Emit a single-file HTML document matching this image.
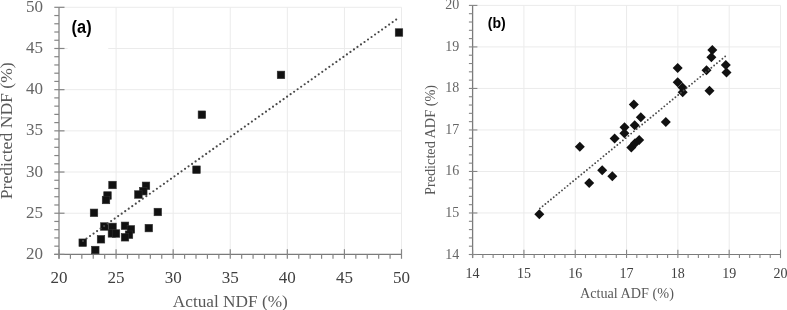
<!DOCTYPE html>
<html><head><meta charset="utf-8"><style>
html,body{margin:0;padding:0;background:#fff;width:787px;height:310px;overflow:hidden}
svg{display:block;filter:grayscale(1)}
.tl{font-family:"Liberation Serif",serif;font-size:17px}
.tl2{font-family:"Liberation Serif",serif;font-size:14.5px}
.ty{fill:#666666}.tx{fill:#404040}
.at1{font-family:"Liberation Serif",serif;font-size:17.5px;fill:#595959}
.at2{font-family:"Liberation Serif",serif;font-size:14.3px;fill:#595959}
.lab1{font-family:"Liberation Sans",sans-serif;font-weight:bold;font-size:17.5px;fill:#000}
.lab2{font-family:"Liberation Sans",sans-serif;font-weight:bold;font-size:14.2px;fill:#000}
</style></head><body>
<svg width="787" height="310" viewBox="0 0 787 310">
<line x1="116.08" y1="7.30" x2="116.08" y2="254.40" stroke="#ebebeb" stroke-width="1"/>
<line x1="59.00" y1="213.22" x2="401.50" y2="213.22" stroke="#ebebeb" stroke-width="1"/>
<line x1="173.17" y1="7.30" x2="173.17" y2="254.40" stroke="#ebebeb" stroke-width="1"/>
<line x1="59.00" y1="172.03" x2="401.50" y2="172.03" stroke="#ebebeb" stroke-width="1"/>
<line x1="230.25" y1="7.30" x2="230.25" y2="254.40" stroke="#ebebeb" stroke-width="1"/>
<line x1="59.00" y1="130.85" x2="401.50" y2="130.85" stroke="#ebebeb" stroke-width="1"/>
<line x1="287.33" y1="7.30" x2="287.33" y2="254.40" stroke="#ebebeb" stroke-width="1"/>
<line x1="59.00" y1="89.67" x2="401.50" y2="89.67" stroke="#ebebeb" stroke-width="1"/>
<line x1="344.42" y1="7.30" x2="344.42" y2="254.40" stroke="#ebebeb" stroke-width="1"/>
<line x1="59.00" y1="48.48" x2="401.50" y2="48.48" stroke="#ebebeb" stroke-width="1"/>
<line x1="401.50" y1="7.30" x2="401.50" y2="254.40" stroke="#ebebeb" stroke-width="1"/>
<line x1="59.00" y1="7.30" x2="401.50" y2="7.30" stroke="#ebebeb" stroke-width="1"/>
<line x1="59.00" y1="7.30" x2="59.00" y2="258.80" stroke="#a8a8a8" stroke-width="1.8"/>
<line x1="54.30" y1="254.40" x2="401.50" y2="254.40" stroke="#7a7a7a" stroke-width="1.1"/>
<line x1="70.42" y1="254.40" x2="70.42" y2="258.80" stroke="#858585" stroke-width="1.2"/>
<line x1="54.30" y1="246.16" x2="59.00" y2="246.16" stroke="#858585" stroke-width="1.2"/>
<line x1="81.83" y1="254.40" x2="81.83" y2="258.80" stroke="#858585" stroke-width="1.2"/>
<line x1="54.30" y1="237.93" x2="59.00" y2="237.93" stroke="#858585" stroke-width="1.2"/>
<line x1="93.25" y1="254.40" x2="93.25" y2="258.80" stroke="#858585" stroke-width="1.2"/>
<line x1="54.30" y1="229.69" x2="59.00" y2="229.69" stroke="#858585" stroke-width="1.2"/>
<line x1="104.67" y1="254.40" x2="104.67" y2="258.80" stroke="#858585" stroke-width="1.2"/>
<line x1="54.30" y1="221.45" x2="59.00" y2="221.45" stroke="#858585" stroke-width="1.2"/>
<line x1="127.50" y1="254.40" x2="127.50" y2="258.80" stroke="#858585" stroke-width="1.2"/>
<line x1="54.30" y1="204.98" x2="59.00" y2="204.98" stroke="#858585" stroke-width="1.2"/>
<line x1="138.92" y1="254.40" x2="138.92" y2="258.80" stroke="#858585" stroke-width="1.2"/>
<line x1="54.30" y1="196.74" x2="59.00" y2="196.74" stroke="#858585" stroke-width="1.2"/>
<line x1="150.33" y1="254.40" x2="150.33" y2="258.80" stroke="#858585" stroke-width="1.2"/>
<line x1="54.30" y1="188.51" x2="59.00" y2="188.51" stroke="#858585" stroke-width="1.2"/>
<line x1="161.75" y1="254.40" x2="161.75" y2="258.80" stroke="#858585" stroke-width="1.2"/>
<line x1="54.30" y1="180.27" x2="59.00" y2="180.27" stroke="#858585" stroke-width="1.2"/>
<line x1="184.58" y1="254.40" x2="184.58" y2="258.80" stroke="#858585" stroke-width="1.2"/>
<line x1="54.30" y1="163.80" x2="59.00" y2="163.80" stroke="#858585" stroke-width="1.2"/>
<line x1="196.00" y1="254.40" x2="196.00" y2="258.80" stroke="#858585" stroke-width="1.2"/>
<line x1="54.30" y1="155.56" x2="59.00" y2="155.56" stroke="#858585" stroke-width="1.2"/>
<line x1="207.42" y1="254.40" x2="207.42" y2="258.80" stroke="#858585" stroke-width="1.2"/>
<line x1="54.30" y1="147.32" x2="59.00" y2="147.32" stroke="#858585" stroke-width="1.2"/>
<line x1="218.83" y1="254.40" x2="218.83" y2="258.80" stroke="#858585" stroke-width="1.2"/>
<line x1="54.30" y1="139.09" x2="59.00" y2="139.09" stroke="#858585" stroke-width="1.2"/>
<line x1="241.67" y1="254.40" x2="241.67" y2="258.80" stroke="#858585" stroke-width="1.2"/>
<line x1="54.30" y1="122.61" x2="59.00" y2="122.61" stroke="#858585" stroke-width="1.2"/>
<line x1="253.08" y1="254.40" x2="253.08" y2="258.80" stroke="#858585" stroke-width="1.2"/>
<line x1="54.30" y1="114.38" x2="59.00" y2="114.38" stroke="#858585" stroke-width="1.2"/>
<line x1="264.50" y1="254.40" x2="264.50" y2="258.80" stroke="#858585" stroke-width="1.2"/>
<line x1="54.30" y1="106.14" x2="59.00" y2="106.14" stroke="#858585" stroke-width="1.2"/>
<line x1="275.92" y1="254.40" x2="275.92" y2="258.80" stroke="#858585" stroke-width="1.2"/>
<line x1="54.30" y1="97.90" x2="59.00" y2="97.90" stroke="#858585" stroke-width="1.2"/>
<line x1="298.75" y1="254.40" x2="298.75" y2="258.80" stroke="#858585" stroke-width="1.2"/>
<line x1="54.30" y1="81.43" x2="59.00" y2="81.43" stroke="#858585" stroke-width="1.2"/>
<line x1="310.17" y1="254.40" x2="310.17" y2="258.80" stroke="#858585" stroke-width="1.2"/>
<line x1="54.30" y1="73.19" x2="59.00" y2="73.19" stroke="#858585" stroke-width="1.2"/>
<line x1="321.58" y1="254.40" x2="321.58" y2="258.80" stroke="#858585" stroke-width="1.2"/>
<line x1="54.30" y1="64.96" x2="59.00" y2="64.96" stroke="#858585" stroke-width="1.2"/>
<line x1="333.00" y1="254.40" x2="333.00" y2="258.80" stroke="#858585" stroke-width="1.2"/>
<line x1="54.30" y1="56.72" x2="59.00" y2="56.72" stroke="#858585" stroke-width="1.2"/>
<line x1="355.83" y1="254.40" x2="355.83" y2="258.80" stroke="#858585" stroke-width="1.2"/>
<line x1="54.30" y1="40.25" x2="59.00" y2="40.25" stroke="#858585" stroke-width="1.2"/>
<line x1="367.25" y1="254.40" x2="367.25" y2="258.80" stroke="#858585" stroke-width="1.2"/>
<line x1="54.30" y1="32.01" x2="59.00" y2="32.01" stroke="#858585" stroke-width="1.2"/>
<line x1="378.67" y1="254.40" x2="378.67" y2="258.80" stroke="#858585" stroke-width="1.2"/>
<line x1="54.30" y1="23.77" x2="59.00" y2="23.77" stroke="#858585" stroke-width="1.2"/>
<line x1="390.08" y1="254.40" x2="390.08" y2="258.80" stroke="#858585" stroke-width="1.2"/>
<line x1="54.30" y1="15.54" x2="59.00" y2="15.54" stroke="#858585" stroke-width="1.2"/>
<line x1="59.00" y1="249.20" x2="59.00" y2="258.80" stroke="#858585" stroke-width="1.2"/>
<line x1="54.30" y1="254.40" x2="64.50" y2="254.40" stroke="#858585" stroke-width="1.2"/>
<line x1="116.08" y1="249.20" x2="116.08" y2="258.80" stroke="#858585" stroke-width="1.2"/>
<line x1="54.30" y1="213.22" x2="64.50" y2="213.22" stroke="#858585" stroke-width="1.2"/>
<line x1="173.17" y1="249.20" x2="173.17" y2="258.80" stroke="#858585" stroke-width="1.2"/>
<line x1="54.30" y1="172.03" x2="64.50" y2="172.03" stroke="#858585" stroke-width="1.2"/>
<line x1="230.25" y1="249.20" x2="230.25" y2="258.80" stroke="#858585" stroke-width="1.2"/>
<line x1="54.30" y1="130.85" x2="64.50" y2="130.85" stroke="#858585" stroke-width="1.2"/>
<line x1="287.33" y1="249.20" x2="287.33" y2="258.80" stroke="#858585" stroke-width="1.2"/>
<line x1="54.30" y1="89.67" x2="64.50" y2="89.67" stroke="#858585" stroke-width="1.2"/>
<line x1="344.42" y1="249.20" x2="344.42" y2="258.80" stroke="#858585" stroke-width="1.2"/>
<line x1="54.30" y1="48.48" x2="64.50" y2="48.48" stroke="#858585" stroke-width="1.2"/>
<line x1="401.50" y1="249.20" x2="401.50" y2="258.80" stroke="#858585" stroke-width="1.2"/>
<line x1="54.30" y1="7.30" x2="64.50" y2="7.30" stroke="#858585" stroke-width="1.2"/>
<rect x="67.6" y="9" width="40.6" height="46" fill="#fff"/>
<text x="43" y="259.00" text-anchor="end" class="tl ty">20</text>
<text x="59.00" y="283.1" text-anchor="middle" class="tl tx">20</text>
<text x="43" y="217.82" text-anchor="end" class="tl ty">25</text>
<text x="116.08" y="283.1" text-anchor="middle" class="tl tx">25</text>
<text x="43" y="176.63" text-anchor="end" class="tl ty">30</text>
<text x="173.17" y="283.1" text-anchor="middle" class="tl tx">30</text>
<text x="43" y="135.45" text-anchor="end" class="tl ty">35</text>
<text x="230.25" y="283.1" text-anchor="middle" class="tl tx">35</text>
<text x="43" y="94.27" text-anchor="end" class="tl ty">40</text>
<text x="287.33" y="283.1" text-anchor="middle" class="tl tx">40</text>
<text x="43" y="53.08" text-anchor="end" class="tl ty">45</text>
<text x="344.42" y="283.1" text-anchor="middle" class="tl tx">45</text>
<text x="43" y="11.90" text-anchor="end" class="tl ty">50</text>
<text x="401.50" y="283.1" text-anchor="middle" class="tl tx">50</text>
<rect x="78.95" y="238.95" width="7.5" height="7.5" fill="#111111" stroke="#2e2e2e" stroke-width="0.6"/>
<rect x="91.55" y="246.25" width="7.5" height="7.5" fill="#111111" stroke="#2e2e2e" stroke-width="0.6"/>
<rect x="90.25" y="209.05" width="7.5" height="7.5" fill="#111111" stroke="#2e2e2e" stroke-width="0.6"/>
<rect x="97.25" y="235.55" width="7.5" height="7.5" fill="#111111" stroke="#2e2e2e" stroke-width="0.6"/>
<rect x="100.65" y="222.75" width="7.5" height="7.5" fill="#111111" stroke="#2e2e2e" stroke-width="0.6"/>
<rect x="108.75" y="181.25" width="7.5" height="7.5" fill="#111111" stroke="#2e2e2e" stroke-width="0.6"/>
<rect x="103.75" y="191.75" width="7.5" height="7.5" fill="#111111" stroke="#2e2e2e" stroke-width="0.6"/>
<rect x="102.25" y="196.25" width="7.5" height="7.5" fill="#111111" stroke="#2e2e2e" stroke-width="0.6"/>
<rect x="108.75" y="223.15" width="7.5" height="7.5" fill="#111111" stroke="#2e2e2e" stroke-width="0.6"/>
<rect x="108.15" y="229.65" width="7.5" height="7.5" fill="#111111" stroke="#2e2e2e" stroke-width="0.6"/>
<rect x="112.25" y="229.75" width="7.5" height="7.5" fill="#111111" stroke="#2e2e2e" stroke-width="0.6"/>
<rect x="121.25" y="222.05" width="7.5" height="7.5" fill="#111111" stroke="#2e2e2e" stroke-width="0.6"/>
<rect x="127.15" y="225.65" width="7.5" height="7.5" fill="#111111" stroke="#2e2e2e" stroke-width="0.6"/>
<rect x="125.25" y="230.95" width="7.5" height="7.5" fill="#111111" stroke="#2e2e2e" stroke-width="0.6"/>
<rect x="121.25" y="233.55" width="7.5" height="7.5" fill="#111111" stroke="#2e2e2e" stroke-width="0.6"/>
<rect x="142.25" y="182.05" width="7.5" height="7.5" fill="#111111" stroke="#2e2e2e" stroke-width="0.6"/>
<rect x="139.55" y="187.45" width="7.5" height="7.5" fill="#111111" stroke="#2e2e2e" stroke-width="0.6"/>
<rect x="134.65" y="190.75" width="7.5" height="7.5" fill="#111111" stroke="#2e2e2e" stroke-width="0.6"/>
<rect x="154.05" y="208.25" width="7.5" height="7.5" fill="#111111" stroke="#2e2e2e" stroke-width="0.6"/>
<rect x="145.05" y="224.35" width="7.5" height="7.5" fill="#111111" stroke="#2e2e2e" stroke-width="0.6"/>
<rect x="192.75" y="165.95" width="7.5" height="7.5" fill="#111111" stroke="#2e2e2e" stroke-width="0.6"/>
<rect x="198.15" y="110.95" width="7.5" height="7.5" fill="#111111" stroke="#2e2e2e" stroke-width="0.6"/>
<rect x="277.25" y="71.15" width="7.5" height="7.5" fill="#111111" stroke="#2e2e2e" stroke-width="0.6"/>
<rect x="395.25" y="28.75" width="7.5" height="7.5" fill="#111111" stroke="#2e2e2e" stroke-width="0.6"/>
<line x1="83" y1="241.0" x2="396.3" y2="19.5" stroke="#4a4a4a" stroke-width="2.2" stroke-linecap="round" stroke-dasharray="0 4.3094"/>
<text x="230.3" y="306.5" text-anchor="middle" class="at1" textLength="115" lengthAdjust="spacingAndGlyphs">Actual NDF (%)</text>
<text transform="translate(11.8 130.8) rotate(-90)" text-anchor="middle" class="at1" textLength="137" lengthAdjust="spacingAndGlyphs">Predicted NDF (%)</text>
<text x="71.6" y="33.2" class="lab1" textLength="20" lengthAdjust="spacingAndGlyphs">(a)</text>
<line x1="523.92" y1="5.40" x2="523.92" y2="254.50" stroke="#ebebeb" stroke-width="1"/>
<line x1="472.60" y1="212.98" x2="780.50" y2="212.98" stroke="#ebebeb" stroke-width="1"/>
<line x1="575.23" y1="5.40" x2="575.23" y2="254.50" stroke="#ebebeb" stroke-width="1"/>
<line x1="472.60" y1="171.47" x2="780.50" y2="171.47" stroke="#ebebeb" stroke-width="1"/>
<line x1="626.55" y1="5.40" x2="626.55" y2="254.50" stroke="#ebebeb" stroke-width="1"/>
<line x1="472.60" y1="129.95" x2="780.50" y2="129.95" stroke="#ebebeb" stroke-width="1"/>
<line x1="677.87" y1="5.40" x2="677.87" y2="254.50" stroke="#ebebeb" stroke-width="1"/>
<line x1="472.60" y1="88.43" x2="780.50" y2="88.43" stroke="#ebebeb" stroke-width="1"/>
<line x1="729.18" y1="5.40" x2="729.18" y2="254.50" stroke="#ebebeb" stroke-width="1"/>
<line x1="472.60" y1="46.92" x2="780.50" y2="46.92" stroke="#ebebeb" stroke-width="1"/>
<line x1="780.50" y1="5.40" x2="780.50" y2="254.50" stroke="#ebebeb" stroke-width="1"/>
<line x1="472.60" y1="5.40" x2="780.50" y2="5.40" stroke="#ebebeb" stroke-width="1"/>
<line x1="472.60" y1="5.40" x2="472.60" y2="258.10" stroke="#7a7a7a" stroke-width="1.3"/>
<line x1="468.90" y1="254.50" x2="780.50" y2="254.50" stroke="#7a7a7a" stroke-width="1.1"/>
<line x1="482.86" y1="254.50" x2="482.86" y2="258.10" stroke="#858585" stroke-width="1.1"/>
<line x1="468.90" y1="246.20" x2="472.60" y2="246.20" stroke="#858585" stroke-width="1.1"/>
<line x1="493.13" y1="254.50" x2="493.13" y2="258.10" stroke="#858585" stroke-width="1.1"/>
<line x1="468.90" y1="237.89" x2="472.60" y2="237.89" stroke="#858585" stroke-width="1.1"/>
<line x1="503.39" y1="254.50" x2="503.39" y2="258.10" stroke="#858585" stroke-width="1.1"/>
<line x1="468.90" y1="229.59" x2="472.60" y2="229.59" stroke="#858585" stroke-width="1.1"/>
<line x1="513.65" y1="254.50" x2="513.65" y2="258.10" stroke="#858585" stroke-width="1.1"/>
<line x1="468.90" y1="221.29" x2="472.60" y2="221.29" stroke="#858585" stroke-width="1.1"/>
<line x1="534.18" y1="254.50" x2="534.18" y2="258.10" stroke="#858585" stroke-width="1.1"/>
<line x1="468.90" y1="204.68" x2="472.60" y2="204.68" stroke="#858585" stroke-width="1.1"/>
<line x1="544.44" y1="254.50" x2="544.44" y2="258.10" stroke="#858585" stroke-width="1.1"/>
<line x1="468.90" y1="196.38" x2="472.60" y2="196.38" stroke="#858585" stroke-width="1.1"/>
<line x1="554.71" y1="254.50" x2="554.71" y2="258.10" stroke="#858585" stroke-width="1.1"/>
<line x1="468.90" y1="188.07" x2="472.60" y2="188.07" stroke="#858585" stroke-width="1.1"/>
<line x1="564.97" y1="254.50" x2="564.97" y2="258.10" stroke="#858585" stroke-width="1.1"/>
<line x1="468.90" y1="179.77" x2="472.60" y2="179.77" stroke="#858585" stroke-width="1.1"/>
<line x1="585.50" y1="254.50" x2="585.50" y2="258.10" stroke="#858585" stroke-width="1.1"/>
<line x1="468.90" y1="163.16" x2="472.60" y2="163.16" stroke="#858585" stroke-width="1.1"/>
<line x1="595.76" y1="254.50" x2="595.76" y2="258.10" stroke="#858585" stroke-width="1.1"/>
<line x1="468.90" y1="154.86" x2="472.60" y2="154.86" stroke="#858585" stroke-width="1.1"/>
<line x1="606.02" y1="254.50" x2="606.02" y2="258.10" stroke="#858585" stroke-width="1.1"/>
<line x1="468.90" y1="146.56" x2="472.60" y2="146.56" stroke="#858585" stroke-width="1.1"/>
<line x1="616.29" y1="254.50" x2="616.29" y2="258.10" stroke="#858585" stroke-width="1.1"/>
<line x1="468.90" y1="138.25" x2="472.60" y2="138.25" stroke="#858585" stroke-width="1.1"/>
<line x1="636.81" y1="254.50" x2="636.81" y2="258.10" stroke="#858585" stroke-width="1.1"/>
<line x1="468.90" y1="121.65" x2="472.60" y2="121.65" stroke="#858585" stroke-width="1.1"/>
<line x1="647.08" y1="254.50" x2="647.08" y2="258.10" stroke="#858585" stroke-width="1.1"/>
<line x1="468.90" y1="113.34" x2="472.60" y2="113.34" stroke="#858585" stroke-width="1.1"/>
<line x1="657.34" y1="254.50" x2="657.34" y2="258.10" stroke="#858585" stroke-width="1.1"/>
<line x1="468.90" y1="105.04" x2="472.60" y2="105.04" stroke="#858585" stroke-width="1.1"/>
<line x1="667.60" y1="254.50" x2="667.60" y2="258.10" stroke="#858585" stroke-width="1.1"/>
<line x1="468.90" y1="96.74" x2="472.60" y2="96.74" stroke="#858585" stroke-width="1.1"/>
<line x1="688.13" y1="254.50" x2="688.13" y2="258.10" stroke="#858585" stroke-width="1.1"/>
<line x1="468.90" y1="80.13" x2="472.60" y2="80.13" stroke="#858585" stroke-width="1.1"/>
<line x1="698.39" y1="254.50" x2="698.39" y2="258.10" stroke="#858585" stroke-width="1.1"/>
<line x1="468.90" y1="71.83" x2="472.60" y2="71.83" stroke="#858585" stroke-width="1.1"/>
<line x1="708.66" y1="254.50" x2="708.66" y2="258.10" stroke="#858585" stroke-width="1.1"/>
<line x1="468.90" y1="63.52" x2="472.60" y2="63.52" stroke="#858585" stroke-width="1.1"/>
<line x1="718.92" y1="254.50" x2="718.92" y2="258.10" stroke="#858585" stroke-width="1.1"/>
<line x1="468.90" y1="55.22" x2="472.60" y2="55.22" stroke="#858585" stroke-width="1.1"/>
<line x1="739.45" y1="254.50" x2="739.45" y2="258.10" stroke="#858585" stroke-width="1.1"/>
<line x1="468.90" y1="38.61" x2="472.60" y2="38.61" stroke="#858585" stroke-width="1.1"/>
<line x1="749.71" y1="254.50" x2="749.71" y2="258.10" stroke="#858585" stroke-width="1.1"/>
<line x1="468.90" y1="30.31" x2="472.60" y2="30.31" stroke="#858585" stroke-width="1.1"/>
<line x1="759.97" y1="254.50" x2="759.97" y2="258.10" stroke="#858585" stroke-width="1.1"/>
<line x1="468.90" y1="22.01" x2="472.60" y2="22.01" stroke="#858585" stroke-width="1.1"/>
<line x1="770.24" y1="254.50" x2="770.24" y2="258.10" stroke="#858585" stroke-width="1.1"/>
<line x1="468.90" y1="13.70" x2="472.60" y2="13.70" stroke="#858585" stroke-width="1.1"/>
<line x1="472.60" y1="249.70" x2="472.60" y2="258.10" stroke="#858585" stroke-width="1.1"/>
<line x1="468.90" y1="254.50" x2="477.40" y2="254.50" stroke="#858585" stroke-width="1.1"/>
<line x1="523.92" y1="249.70" x2="523.92" y2="258.10" stroke="#858585" stroke-width="1.1"/>
<line x1="468.90" y1="212.98" x2="477.40" y2="212.98" stroke="#858585" stroke-width="1.1"/>
<line x1="575.23" y1="249.70" x2="575.23" y2="258.10" stroke="#858585" stroke-width="1.1"/>
<line x1="468.90" y1="171.47" x2="477.40" y2="171.47" stroke="#858585" stroke-width="1.1"/>
<line x1="626.55" y1="249.70" x2="626.55" y2="258.10" stroke="#858585" stroke-width="1.1"/>
<line x1="468.90" y1="129.95" x2="477.40" y2="129.95" stroke="#858585" stroke-width="1.1"/>
<line x1="677.87" y1="249.70" x2="677.87" y2="258.10" stroke="#858585" stroke-width="1.1"/>
<line x1="468.90" y1="88.43" x2="477.40" y2="88.43" stroke="#858585" stroke-width="1.1"/>
<line x1="729.18" y1="249.70" x2="729.18" y2="258.10" stroke="#858585" stroke-width="1.1"/>
<line x1="468.90" y1="46.92" x2="477.40" y2="46.92" stroke="#858585" stroke-width="1.1"/>
<line x1="780.50" y1="249.70" x2="780.50" y2="258.10" stroke="#858585" stroke-width="1.1"/>
<line x1="468.90" y1="5.40" x2="477.40" y2="5.40" stroke="#858585" stroke-width="1.1"/>
<text x="459.2" y="258.50" text-anchor="end" class="tl2 ty" textLength="14" lengthAdjust="spacingAndGlyphs">14</text>
<text x="472.60" y="278.3" text-anchor="middle" class="tl2 tx" textLength="14" lengthAdjust="spacingAndGlyphs">14</text>
<text x="459.2" y="216.98" text-anchor="end" class="tl2 ty" textLength="14" lengthAdjust="spacingAndGlyphs">15</text>
<text x="523.92" y="278.3" text-anchor="middle" class="tl2 tx" textLength="14" lengthAdjust="spacingAndGlyphs">15</text>
<text x="459.2" y="175.47" text-anchor="end" class="tl2 ty" textLength="14" lengthAdjust="spacingAndGlyphs">16</text>
<text x="575.23" y="278.3" text-anchor="middle" class="tl2 tx" textLength="14" lengthAdjust="spacingAndGlyphs">16</text>
<text x="459.2" y="133.95" text-anchor="end" class="tl2 ty" textLength="14" lengthAdjust="spacingAndGlyphs">17</text>
<text x="626.55" y="278.3" text-anchor="middle" class="tl2 tx" textLength="14" lengthAdjust="spacingAndGlyphs">17</text>
<text x="459.2" y="92.43" text-anchor="end" class="tl2 ty" textLength="14" lengthAdjust="spacingAndGlyphs">18</text>
<text x="677.87" y="278.3" text-anchor="middle" class="tl2 tx" textLength="14" lengthAdjust="spacingAndGlyphs">18</text>
<text x="459.2" y="50.92" text-anchor="end" class="tl2 ty" textLength="14" lengthAdjust="spacingAndGlyphs">19</text>
<text x="729.18" y="278.3" text-anchor="middle" class="tl2 tx" textLength="14" lengthAdjust="spacingAndGlyphs">19</text>
<text x="459.2" y="9.40" text-anchor="end" class="tl2 ty" textLength="14" lengthAdjust="spacingAndGlyphs">20</text>
<text x="780.50" y="278.3" text-anchor="middle" class="tl2 tx" textLength="14" lengthAdjust="spacingAndGlyphs">20</text>
<path d="M539.30 209.30L544.30 214.30L539.30 219.30L534.30 214.30Z" fill="#111111"/>
<path d="M579.80 141.70L584.80 146.70L579.80 151.70L574.80 146.70Z" fill="#111111"/>
<path d="M589.20 178.00L594.20 183.00L589.20 188.00L584.20 183.00Z" fill="#111111"/>
<path d="M602.20 165.30L607.20 170.30L602.20 175.30L597.20 170.30Z" fill="#111111"/>
<path d="M612.30 171.20L617.30 176.20L612.30 181.20L607.30 176.20Z" fill="#111111"/>
<path d="M614.60 133.60L619.60 138.60L614.60 143.60L609.60 138.60Z" fill="#111111"/>
<path d="M624.50 122.20L629.50 127.20L624.50 132.20L619.50 127.20Z" fill="#111111"/>
<path d="M624.40 128.20L629.40 133.20L624.40 138.20L619.40 133.20Z" fill="#111111"/>
<path d="M633.80 99.60L638.80 104.60L633.80 109.60L628.80 104.60Z" fill="#111111"/>
<path d="M634.70 120.30L639.70 125.30L634.70 130.30L629.70 125.30Z" fill="#111111"/>
<path d="M640.80 112.30L645.80 117.30L640.80 122.30L635.80 117.30Z" fill="#111111"/>
<path d="M631.30 142.40L636.30 147.40L631.30 152.40L626.30 147.40Z" fill="#111111"/>
<path d="M635.00 138.30L640.00 143.30L635.00 148.30L630.00 143.30Z" fill="#111111"/>
<path d="M639.20 135.00L644.20 140.00L639.20 145.00L634.20 140.00Z" fill="#111111"/>
<path d="M665.80 117.10L670.80 122.10L665.80 127.10L660.80 122.10Z" fill="#111111"/>
<path d="M677.70 63.10L682.70 68.10L677.70 73.10L672.70 68.10Z" fill="#111111"/>
<path d="M677.70 77.30L682.70 82.30L677.70 87.30L672.70 82.30Z" fill="#111111"/>
<path d="M682.50 82.50L687.50 87.50L682.50 92.50L677.50 87.50Z" fill="#111111"/>
<path d="M682.70 87.30L687.70 92.30L682.70 97.30L677.70 92.30Z" fill="#111111"/>
<path d="M706.50 65.20L711.50 70.20L706.50 75.20L701.50 70.20Z" fill="#111111"/>
<path d="M709.50 85.70L714.50 90.70L709.50 95.70L704.50 90.70Z" fill="#111111"/>
<path d="M711.40 52.30L716.40 57.30L711.40 62.30L706.40 57.30Z" fill="#111111"/>
<path d="M712.30 44.90L717.30 49.90L712.30 54.90L707.30 49.90Z" fill="#111111"/>
<path d="M725.80 60.00L730.80 65.00L725.80 70.00L720.80 65.00Z" fill="#111111"/>
<path d="M726.50 67.40L731.50 72.40L726.50 77.40L721.50 72.40Z" fill="#111111"/>
<line x1="539.87" y1="208.54" x2="725.2" y2="56.4" stroke="#4a4a4a" stroke-width="1.9" stroke-linecap="round" stroke-dasharray="0 3.5785"/>
<text x="626.9" y="297.6" text-anchor="middle" class="at2" textLength="94" lengthAdjust="spacingAndGlyphs">Actual ADF (%)</text>
<text transform="translate(435.2 140) rotate(-90)" text-anchor="middle" class="at2" textLength="110" lengthAdjust="spacingAndGlyphs">Predicted ADF (%)</text>
<text x="487.8" y="27.6" class="lab2" textLength="18" lengthAdjust="spacingAndGlyphs">(b)</text>
</svg>
</body></html>
